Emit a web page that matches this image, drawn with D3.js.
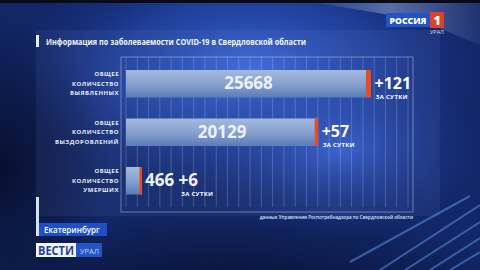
<!DOCTYPE html>
<html>
<head>
<meta charset="utf-8">
<script src="https://cdn.jsdelivr.net/npm/d3@7"></script>
<style>
  html, body { margin: 0; padding: 0; background: #0b1640; }
  svg { display: block; }
  text { font-family: "Open Sans", "DejaVu Sans", sans-serif; }
</style>
</head>
<body>
<div id="visualization"></div>
<script>
/*************************************/
/* Data                              */
/*************************************/

const categories = [
  ['ОБЩЕЕ', 'КОЛИЧЕСТВО', 'ВЫЯВЛЕННЫХ'],
  ['ОБЩЕЕ', 'КОЛИЧЕСТВО', 'ВЫЗДОРОВЛЕНИЙ'],
  ['ОБЩЕЕ', 'КОЛИЧЕСТВО', 'УМЕРШИХ']
];
const totals = [25668, 20129, 466];
const daily = [121, 57, 6];
const dailyLabel = 'ЗА СУТКИ';

const title = 'Информация по заболеваемости COVID-19 в Свердловской области';
const source = 'данные Управления Роспотребнадзора по Свердловской области';
const city = 'Екатеринбург';

/*************************************/
/* Setup                             */
/*************************************/

const width = 480;
const height = 270;

const svg = d3.select('#visualization')
  .append('svg')
  .attr('width', width)
  .attr('height', height)
  .attr('viewBox', [0, 0, width, height]);

const defs = svg.append('defs');

const radial = (id, stops) => {
  const g = defs.append('radialGradient').attr('id', id);
  stops.forEach(s => g.append('stop').attr('offset', s[0]).attr('stop-color', s[1]).attr('stop-opacity', s[2]));
};
radial('glowA', [[0, '#3f6de0', 0.95], [0.55, '#2a52c0', 0.55], [1, '#1a3590', 0]]);
radial('glowB', [[0, '#3a66da', 0.85], [1, '#1a3590', 0]]);
radial('darkL', [[0, '#050b24', 0.85], [1, '#050b24', 0]]);

const barGrad = defs.append('linearGradient').attr('id', 'barGrad')
  .attr('x1', 0).attr('y1', 0).attr('x2', 0).attr('y2', 1);
barGrad.append('stop').attr('offset', 0).attr('stop-color', '#a3b9de');
barGrad.append('stop').attr('offset', 0.5).attr('stop-color', '#88a2cf');
barGrad.append('stop').attr('offset', 1).attr('stop-color', '#5c7cb8');

const stripeGrad = defs.append('linearGradient').attr('id', 'stripe')
  .attr('x1', 0).attr('y1', 0).attr('x2', 1).attr('y2', 0);
stripeGrad.append('stop').attr('offset', 0).attr('stop-color', '#8fa0cc').attr('stop-opacity', 0);
stripeGrad.append('stop').attr('offset', 0.5).attr('stop-color', '#8fa0cc').attr('stop-opacity', 0.55);
stripeGrad.append('stop').attr('offset', 1).attr('stop-color', '#8fa0cc').attr('stop-opacity', 0.1);

// Background
svg.append('rect').attr('width', width).attr('height', height).attr('fill', '#122767');
svg.append('ellipse').attr('cx', 250).attr('cy', 70).attr('rx', 240).attr('ry', 130).attr('fill', 'url(#glowA)');
svg.append('ellipse').attr('cx', 340).attr('cy', 150).attr('rx', 150).attr('ry', 90).attr('fill', 'url(#glowB)');
svg.append('ellipse').attr('cx', 0).attr('cy', 170).attr('rx', 110).attr('ry', 160).attr('fill', 'url(#darkL)');
svg.append('ellipse').attr('cx', 220).attr('cy', 300).attr('rx', 320).attr('ry', 90).attr('fill', 'url(#darkL)');
svg.append('polygon').attr('points', '300,0 480,0 480,45 420,20').attr('fill', 'url(#stripe)');
svg.append('rect').attr('width', width).attr('height', 3).attr('fill', '#0a0a14');

// Streaks lower right
const streaks = [[380, 270, 480, 205], [405, 270, 480, 222], [430, 270, 480, 238], [350, 262, 470, 196], [450, 270, 480, 252]];
svg.append('g')
  .selectAll('line')
  .data(streaks)
  .join('line')
    .attr('x1', d => d[0]).attr('y1', d => d[1])
    .attr('x2', d => d[2]).attr('y2', d => d[3])
    .attr('stroke', '#6fa8ff')
    .attr('stroke-opacity', 0.45)
    .attr('stroke-width', 2);

// Panel
svg.append('rect')
  .attr('x', 36).attr('y', 30).attr('width', 404).attr('height', 186)
  .attr('fill', '#8aa6e6').attr('fill-opacity', 0.08);

/*************************************/
/* Title                             */
/*************************************/

svg.append('rect').attr('x', 36).attr('y', 35).attr('width', 3).attr('height', 12).attr('fill', '#e8edf6');
svg.append('text')
  .attr('x', 46).attr('y', 44.5)
  .attr('fill', '#f2f5fa')
  .attr('font-size', 8)
  .attr('font-weight', 700)
  .attr('textLength', 260)
  .attr('lengthAdjust', 'spacingAndGlyphs')
  .text(title);

/*************************************/
/* Chart                             */
/*************************************/

const x = d3.scaleLinear().domain([0, 25668]).range([126, 371]);
const y = d3.scaleBand().domain(d3.range(totals.length)).range([59.5, 205]).paddingInner(0.433).paddingOuter(0.2165);
const capW = d3.scaleSqrt().domain([0, 121]).range([0, 5]);
const grid = d3.scaleLinear().domain([0, 25]).range([126, 408]);

// Frame and grid
svg.append('rect')
  .attr('x', 121).attr('y', 57).attr('width', 292).attr('height', 155)
  .attr('fill', 'none')
  .attr('stroke', '#c8d6f0').attr('stroke-opacity', 0.45);

svg.append('g')
  .selectAll('line')
  .data(d3.range(26))
  .join('line')
    .attr('x1', d => grid(d)).attr('x2', d => grid(d))
    .attr('y1', 57).attr('y2', 207)
    .attr('stroke', '#dfe8ff')
    .attr('stroke-opacity', 0.22);

const barW = (d, i) => Math.max(x(totals[i]) - x(0), 16);

const rows = svg.append('g')
  .selectAll('g')
  .data(totals)
  .join('g')
    .attr('transform', (d, i) => `translate(0,${y(i)})`);

rows.append('rect')
  .attr('x', x(0))
  .attr('width', barW)
  .attr('height', y.bandwidth())
  .attr('fill', 'url(#barGrad)');

rows.append('rect')
  .attr('x', (d, i) => x(0) + barW(d, i) - Math.max(capW(daily[i]), 2.5))
  .attr('width', (d, i) => Math.max(capW(daily[i]), 2.5))
  .attr('height', y.bandwidth())
  .attr('fill', '#e84a22');

// Category labels
rows.append('text')
  .attr('text-anchor', 'end')
  .attr('fill', '#e6ebf5')
  .attr('font-size', 6)
  .attr('font-weight', 700)
  .attr('letter-spacing', 0.5)
  .selectAll('tspan')
  .data((d, i) => categories[i])
  .join('tspan')
    .attr('x', 119)
    .attr('y', (d, j) => y.bandwidth() / 2 + 2.2 + (j - 1) * 9.5)
    .text(d => d);

// Values
const inside = i => barW(totals[i], i) > 60;

rows.append('text')
  .attr('x', (d, i) => inside(i) ? x(0) + barW(d, i) / 2 : x(0) + barW(d, i) + 3)
  .attr('y', y.bandwidth() / 2 + 5.5)
  .attr('text-anchor', (d, i) => inside(i) ? 'middle' : 'start')
  .attr('fill', '#eef2f8')
  .attr('font-size', 17)
  .attr('font-weight', 700)
  .text((d, i) => inside(i) ? d : `${d} +${daily[i]}`);

rows.filter((d, i) => inside(i))
  .append('text')
  .attr('x', (d, i) => x(0) + barW(d, i) + 3.5)
  .attr('y', y.bandwidth() / 2 + 5)
  .attr('fill', '#ffffff')
  .attr('font-size', 16)
  .attr('font-weight', 700)
  .text(d => `+${daily[totals.indexOf(d)]}`);

rows.append('text')
  .attr('x', (d, i) => inside(i) ? x(0) + barW(d, i) + 4.5 : x(0) + barW(d, i) + 39)
  .attr('y', y.bandwidth() / 2 + 15)
  .attr('fill', '#ffffff')
  .attr('font-size', 6)
  .attr('font-weight', 700)
  .attr('letter-spacing', 0.3)
  .text(dailyLabel);

// Source
svg.append('text')
  .attr('x', 413).attr('y', 219)
  .attr('text-anchor', 'end')
  .attr('fill', '#dfe6f2')
  .attr('font-size', 4.6)
  .attr('font-weight', 600)
  .text(source);

/*************************************/
/* Logos                             */
/*************************************/

// City plate
svg.append('rect').attr('x', 36).attr('y', 197).attr('width', 3).attr('height', 39).attr('fill', '#d9e0ee');
svg.append('rect').attr('x', 39).attr('y', 223).attr('width', 68).attr('height', 13).attr('fill', '#1f4fc8');
svg.append('text')
  .attr('x', 44).attr('y', 232.5)
  .attr('fill', '#ffffff')
  .attr('font-size', 8)
  .attr('font-weight', 600)
  .text(city);

// Vesti
svg.append('rect').attr('x', 36).attr('y', 243).attr('width', 40).attr('height', 14).attr('fill', '#f4f6fb');
svg.append('text')
  .attr('x', 56).attr('y', 254.5)
  .attr('text-anchor', 'middle')
  .attr('fill', '#1b3f9e')
  .attr('font-size', 12)
  .attr('font-weight', 700)
  .attr('textLength', 36)
  .attr('lengthAdjust', 'spacingAndGlyphs')
  .text('ВЕСТИ');
svg.append('rect').attr('x', 76).attr('y', 243).attr('width', 26).attr('height', 14).attr('fill', '#2354c8');
svg.append('text')
  .attr('x', 80).attr('y', 253.5)
  .attr('fill', '#c9d6f2')
  .attr('font-size', 7.5)
  .attr('textLength', 19)
  .text('УРАЛ');

// Russia 1
svg.append('rect').attr('x', 386).attr('y', 13).attr('width', 44).attr('height', 14).attr('fill', '#2352c4');
svg.append('text')
  .attr('x', 408).attr('y', 23.8)
  .attr('text-anchor', 'middle')
  .attr('fill', '#ffffff')
  .attr('font-size', 9.5)
  .attr('font-weight', 800)
  .attr('textLength', 37)
  .attr('lengthAdjust', 'spacingAndGlyphs')
  .text('РОССИЯ');
svg.append('rect').attr('x', 430).attr('y', 12).attr('width', 14).attr('height', 16).attr('fill', '#e0402a');
svg.append('text')
  .attr('x', 437).attr('y', 25)
  .attr('text-anchor', 'middle')
  .attr('fill', '#ffffff')
  .attr('font-size', 13)
  .attr('font-weight', 800)
  .text('1');
svg.append('text')
  .attr('x', 444).attr('y', 33.5)
  .attr('text-anchor', 'end')
  .attr('fill', '#d7def0')
  .attr('font-size', 5.5)
  .text('УРАЛ');
</script>
</body>
</html>
